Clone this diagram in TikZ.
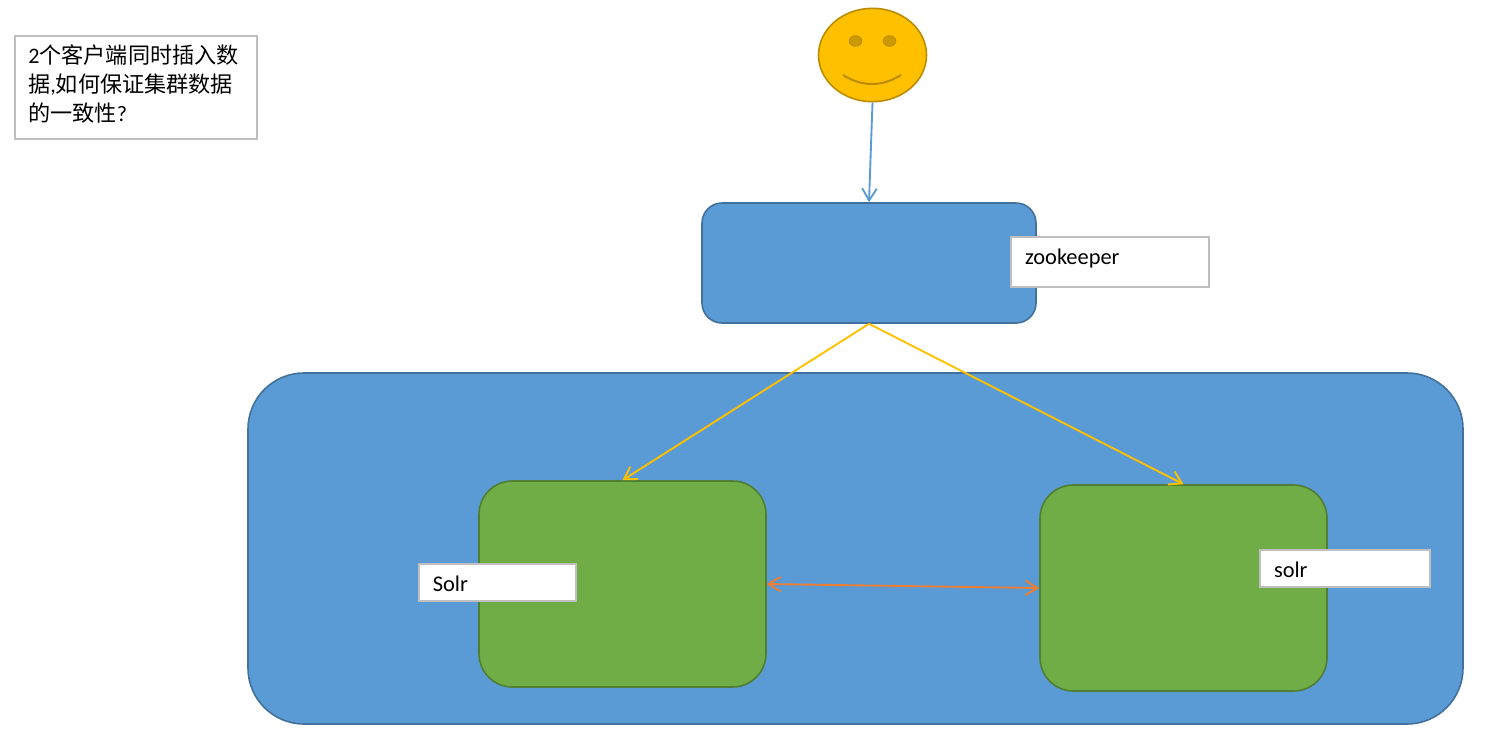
\documentclass[tikz,border=0pt]{standalone}
\usepackage{fontspec}
\setmainfont{Carlito}
\newfontfamily\cjk{Noto Sans CJK SC}
\usetikzlibrary{arrows.meta,shapes.geometric}
\definecolor{bluefill}{HTML}{5B9BD5}
\definecolor{blueedge}{HTML}{41719C}
\definecolor{greenfill}{HTML}{70AD47}
\definecolor{greenedge}{HTML}{507E32}
\definecolor{gold}{HTML}{FFC000}
\definecolor{goldedge}{HTML}{BC8C00}
\definecolor{golddark}{HTML}{CC9A00}
\definecolor{orangeline}{HTML}{ED7D31}
\definecolor{greyedge}{HTML}{BFBFBF}
\tikzset{
  px/.style={x=0.75pt,y=-0.75pt},
  bluebox/.style={draw=blueedge,fill=bluefill,line width=1.2pt,inner sep=0pt},
  greenbox/.style={draw=greenedge,fill=greenfill,line width=1.2pt,inner sep=0pt,minimum width=215.25pt,minimum height=154.5pt,rounded corners=25pt},
  labelbox/.style={draw=greyedge,fill=white,line width=1.1pt,inner sep=0pt,inner xsep=10.5pt,align=left,text=black,font=\fontsize{16.8}{19}\selectfont},
  openarrow/.style={line width=1.4pt,-{Straight Barb[length=9pt,width=11pt,line width=1.4pt]}},
  eye/.style={ellipse,draw=goldedge,fill=golddark,line width=0.6pt,minimum width=9.5pt,minimum height=8pt,inner sep=0pt},
}
\begin{document}
\begin{tikzpicture}[px]
\useasboundingbox (0,0) rectangle (1487,736);
% question box
\node[draw=greyedge,fill=white,line width=1.5pt,inner sep=0pt,minimum width=182pt,minimum height=77pt,anchor=north west] (question) at (13.5,35) {};
\node[anchor=north west,inner sep=0pt,align=left,font=\fontsize{16.6}{21.75}\selectfont] (questiontext) at (28,44.5)
  {2{\cjk 个客户端同时插入数}\\{\cjk 据},{\cjk 如何保证集群数据}\\{\cjk 的一致性}?};
% face
\node[ellipse,draw=goldedge,fill=gold,line width=1.2pt,minimum width=81pt,minimum height=70pt,inner sep=0pt] (face) at (872.5,55) {};
\node[eye] (eyeL) at (855.5,41) {};
\node[eye] (eyeR) at (889.5,41) {};
\draw[goldedge,line width=1.5pt] (843,75) .. controls (862,87) and (882,87) .. (901,75);
% top box
\node[bluebox,minimum width=250.5pt,minimum height=90pt,rounded corners=15pt] (zk) at (869,263) {};
% large box
\node[bluebox,minimum width=911.25pt,minimum height=263.25pt,rounded corners=42pt] (cluster) at (855.5,548.5) {};
% green boxes
\node[greenbox] (solrL) at (622.5,584) {};
\node[greenbox] (solrR) at (1183.5,588) {};
% labels
\node[labelbox,minimum width=148.5pt,minimum height=37.5pt,text width=127.5pt] (zklabel) at (1110,262) {\raisebox{-2.2pt}[0pt][0pt]{zookeeper}};
\node[labelbox,minimum width=118pt,minimum height=27.75pt,text width=97pt] (solrLlabel) at (497.5,582.5) {\raisebox{-6.4pt}[0pt][0pt]{Solr}};
\node[labelbox,minimum width=127.5pt,minimum height=27.75pt,text width=106.5pt] (solrRlabel) at (1345,568.5) {\raisebox{-6.4pt}[0pt][0pt]{solr}};
% connectors
\draw[openarrow,bluefill] (face.south) -- (zk.north);
\draw[openarrow,gold] (zk.south) -- (solrL.north);
\draw[openarrow,gold] (zk.south) -- (solrR.north);
\draw[line width=1.4pt,orangeline,{Straight Barb[length=9pt,width=11pt,line width=1.4pt]}-{Straight Barb[length=9pt,width=11pt,line width=1.4pt]}] (solrL.east) -- (solrR.west);
\end{tikzpicture}
\end{document}
